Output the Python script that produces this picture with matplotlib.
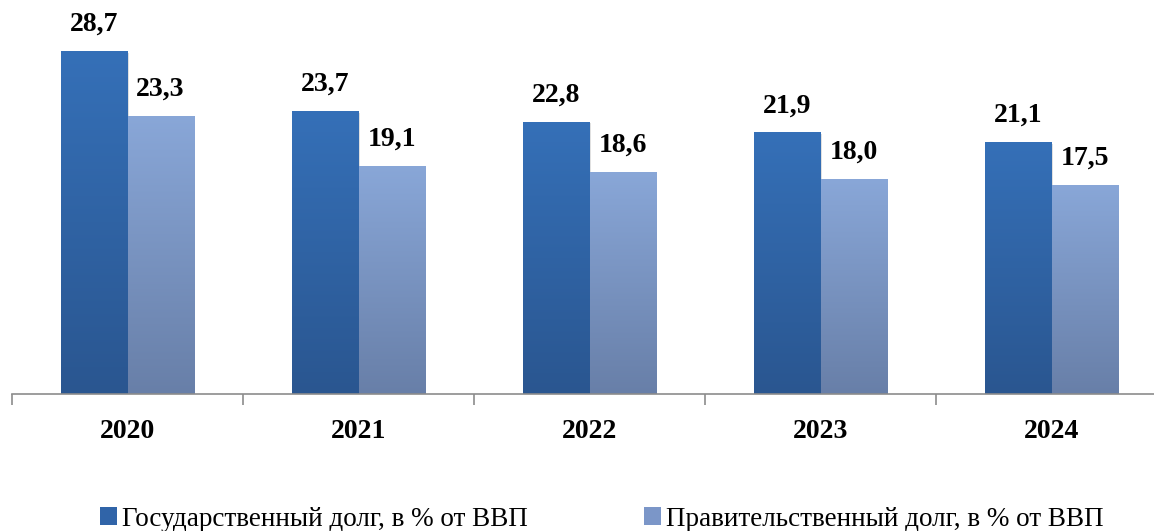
import numpy as np
import matplotlib.pyplot as plt
from matplotlib.colors import LinearSegmentedColormap
from matplotlib.patches import Patch

# Данные
years = ['2020', '2021', '2022', '2023', '2024']
gos_dolg = [28.7, 23.7, 22.8, 21.9, 21.1]
prav_dolg = [23.3, 19.1, 18.6, 18.0, 17.5]
labels = ['Государственный долг, в % от ВВП', 'Правительственный долг, в % от ВВП']

plt.rcParams['font.family'] = ['Liberation Serif', 'DejaVu Serif']

fig = plt.figure(figsize=(11.54, 5.31), dpi=100)
W, H = 1154, 531
ax = fig.add_axes([12 / W, 137 / H, 1155 / W, 384 / H])

x = np.arange(len(years))
w = 0.286
bars1 = ax.bar(x - w / 2, gos_dolg, w, color='none', edgecolor='none')
bars2 = ax.bar(x + w / 2, prav_dolg, w, color='none', edgecolor='none')

# градиентная заливка столбцов
cm1 = LinearSegmentedColormap.from_list('g1', ['#2a5690', '#3570b8'])
cm2 = LinearSegmentedColormap.from_list('g2', ['#687fa8', '#89a7d8'])
grad = np.linspace(0, 1, 256).reshape(-1, 1)
for bars, cm in [(bars1, cm1), (bars2, cm2)]:
    for b in bars:
        x0, y0 = b.get_x(), b.get_y()
        bw, bh = b.get_width(), b.get_height()
        # тень
        ax.bar(x0 + bw / 2 + 0.006, bh, bw, bottom=-0.15, color='#000000',
               alpha=0.12, zorder=1)
        im = ax.imshow(grad, extent=[x0, x0 + bw, y0, y0 + bh], origin='lower',
                       cmap=cm, aspect='auto', zorder=2)
        im.set_clip_path(b)

for bars, vals in [(bars1, gos_dolg), (bars2, prav_dolg)]:
    for b, v in zip(bars, vals):
        ax.annotate(f'{v:.1f}'.replace('.', ','),
                    (b.get_x() + b.get_width() / 2, b.get_height()),
                    xytext=(0, 10), textcoords='offset points',
                    ha='center', va='bottom', fontsize=20, fontweight='bold')

ax.set_xlim(-0.5, len(years) - 0.5)
ax.set_ylim(0, 32.13)
for s in ['top', 'left', 'right']:
    ax.spines[s].set_visible(False)
ax.spines['bottom'].set_color('#8c8c8c')
ax.spines['bottom'].set_linewidth(1.2)
ax.set_yticks([])
ax.set_xticks(x)
ax.set_xticklabels(years, fontsize=20, fontweight='bold')
ax.tick_params(axis='x', which='major', length=0, pad=18)
ax.set_xticks(np.arange(-0.5, len(years)), minor=True)
ax.tick_params(axis='x', which='minor', length=8, color='#8c8c8c', width=1.2)

handles = [Patch(facecolor='#3064a8', edgecolor='none'),
           Patch(facecolor='#7b96c8', edgecolor='none')]
fig.legend(handles, labels, loc='center', bbox_to_anchor=(602 / W, 1 - 519 / H),
           ncol=2, frameon=False, fontsize=19.5, handlelength=0.6, handleheight=0.6,
           handletextpad=0.2, columnspacing=4.3)

fig.savefig('out.png', dpi=100)
